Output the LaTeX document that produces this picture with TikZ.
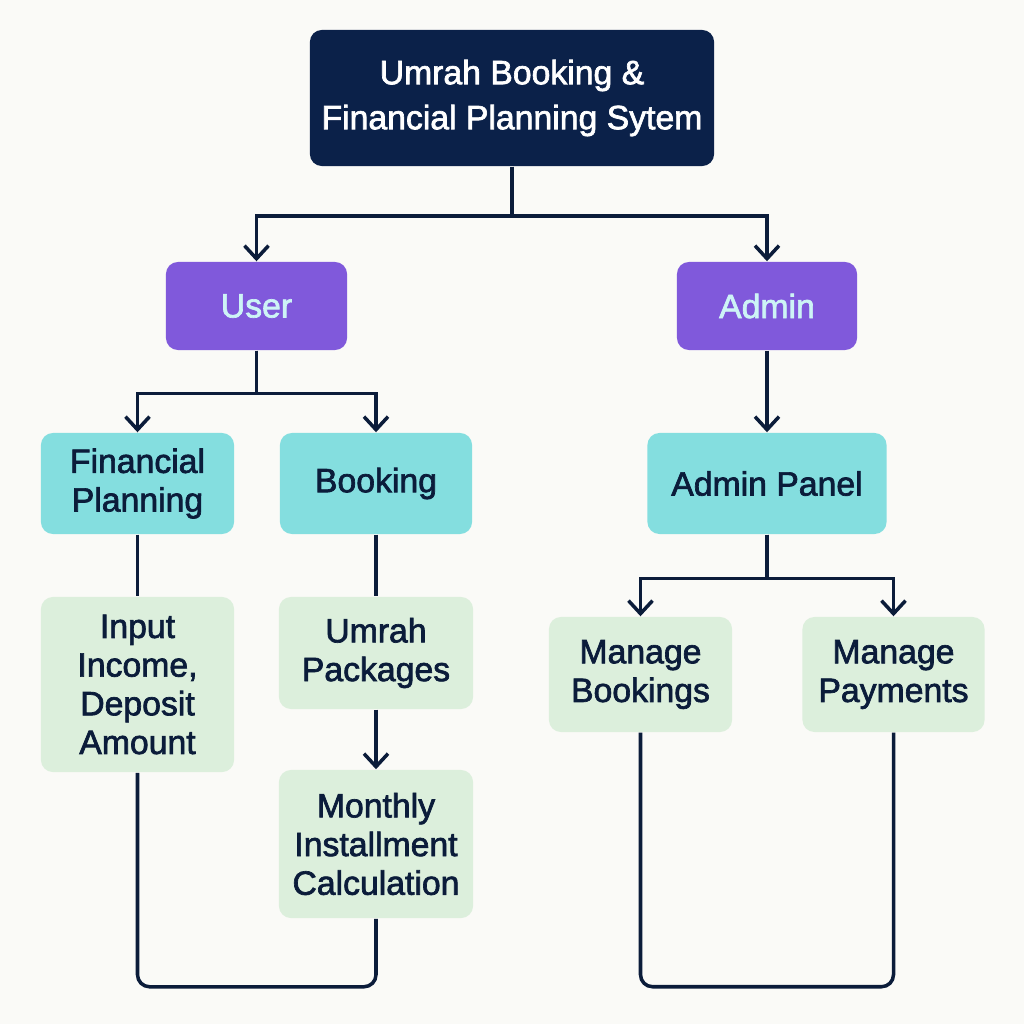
\documentclass[tikz,border=0pt]{standalone}
\usepackage{fontspec}
\setmainfont{Liberation Sans}[FakeBold=2]
\usetikzlibrary{arrows.meta}
\definecolor{paper}{HTML}{FAFAF7}
\definecolor{navy}{HTML}{0B2149}
\definecolor{ink}{HTML}{0B1C3A}
\definecolor{violet}{HTML}{8059DB}
\definecolor{frost}{HTML}{CDF4F6}
\definecolor{aqua}{HTML}{84DEDF}
\definecolor{mint}{HTML}{DCEFDC}

\begin{document}
\begin{tikzpicture}[x=0.01cm,y=-0.01cm,
  box/.style={rounded corners=0.12cm, align=center, inner sep=0pt, text=ink,
    font=\fontsize{9.6}{11}\selectfont},
  head/.style={box, fill=navy, text=white, font=\fontsize{9.6}{12.8}\selectfont},
  role/.style={box, fill=violet, text=frost},
  part/.style={box, fill=aqua},
  task/.style={box, fill=mint},
  link/.style={draw=ink, line width=1pt},
  arr/.style={link, -{Straight Barb[length=1.3mm,width=2.4mm]}}]
  \fill[paper] (0,0) rectangle (1024,1024);
  \useasboundingbox (0,0) rectangle (1024,1024);

  \node[head, minimum width=4.04cm, minimum height=1.36cm] (sys) at (512,98)
    {Umrah Booking \&\\Financial Planning Sytem};
  \node[role, minimum width=1.81cm, minimum height=0.88cm] (user) at (256.5,306) {User};
  \node[role, minimum width=1.80cm, minimum height=0.88cm] (admin) at (767,306) {Admin};

  \node[part, minimum width=1.93cm, minimum height=1.01cm] (plan) at (137.5,483.5) {Financial\\Planning};
  \node[part, minimum width=1.92cm, minimum height=1.01cm] (book) at (376,483.5) {Booking};
  \node[part, minimum width=2.39cm, minimum height=1.01cm] (panel) at (767,483.5) {Admin Panel};

  \node[task, minimum width=1.93cm, minimum height=1.75cm] (input) at (137.5,684.5) {Input\\Income,\\Deposit\\Amount};
  \node[task, minimum width=1.94cm, minimum height=1.12cm] (pkg) at (376,653) {Umrah\\Packages};
  \node[task, minimum width=1.94cm, minimum height=1.48cm] (calc) at (376,844) {Monthly\\Installment\\Calculation};
  \node[task, minimum width=1.83cm, minimum height=1.15cm] (mbook) at (640.5,674.5) {Manage\\Bookings};
  \node[task, minimum width=1.82cm, minimum height=1.15cm] (mpay) at (893.5,674.5) {Manage\\Payments};

  % top split
  \draw[arr] (sys.south) -- ++(0,49) -| (user.north);
  \draw[arr] (sys.south) -- ++(0,49) -| (admin.north);
  % user side
  \draw[arr] (user.south) -- ++(0,43) -| (plan.north);
  \draw[arr] (user.south) -- ++(0,43) -| (book.north);
  \draw[link] (plan) -- (input);
  \draw[link] (book) -- (pkg);
  \draw[arr] (pkg) -- (calc);
  \draw[link, rounded corners=0.12cm] (input.south) -- ++(0,214) -| (calc.south);
  % admin side
  \draw[arr] (admin) -- (panel);
  \draw[arr] (panel.south) -- ++(0,44) -| (mbook.north);
  \draw[arr] (panel.south) -- ++(0,44) -| (mpay.north);
  \draw[link, rounded corners=0.12cm] (mbook.south) -- ++(0,254) -| (mpay.south);
\end{tikzpicture}
\end{document}
